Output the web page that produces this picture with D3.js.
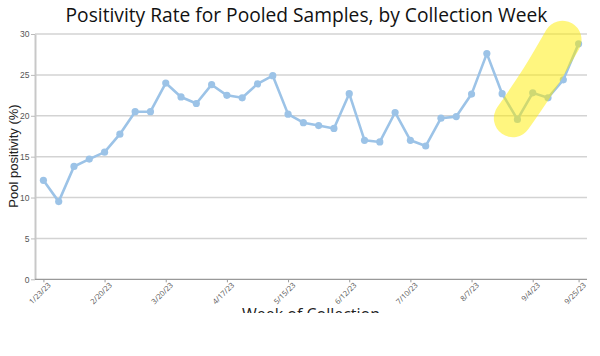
<!DOCTYPE html>
<html><head><meta charset="utf-8">
<script src="https://cdn.jsdelivr.net/npm/d3@7"></script>
<style>
html,body{margin:0;padding:0;background:#fff;}
svg{display:block;}
</style></head>
<body>
<div id="chart"></div>
<script>
const weeks = ["1/23/23","1/30/23","2/6/23","2/13/23","2/20/23","2/27/23","3/6/23","3/13/23","3/20/23","3/27/23","4/3/23","4/10/23","4/17/23","4/24/23","5/1/23","5/8/23","5/15/23","5/22/23","5/29/23","6/5/23","6/12/23","6/19/23","6/26/23","7/3/23","7/10/23","7/17/23","7/24/23","7/31/23","8/7/23","8/14/23","8/21/23","8/28/23","9/4/23","9/11/23","9/18/23","9/25/23"];
const positivity = [12.1,9.5,13.8,14.7,15.55,17.75,20.5,20.5,24.0,22.3,21.5,23.8,22.5,22.2,23.9,24.9,20.2,19.15,18.8,18.45,22.7,17.0,16.8,20.4,17.0,16.3,19.7,19.9,22.65,27.6,22.7,19.55,22.8,22.2,24.4,28.8];
const tickLabels = ["1/23/23","2/20/23","3/20/23","4/17/23","5/15/23","6/12/23","7/10/23","8/7/23","9/4/23","9/25/23"];
const yTicks = [0,5,10,15,20,25,30];
// highlight stroke, in (week index, value) units
const highlight = [[30.7,19.7],[32.4,24.4],[33.95,29.3]];

const W = 600, H = 313;
const m = {left:35, right:13, top:34, bottom:34};
const svg = d3.select("#chart").append("svg").attr("width",W).attr("height",H);

const x = d3.scalePoint().domain(weeks).range([m.left, W-m.right]).padding(0.55);
const xi = d3.scaleLinear().domain([0, weeks.length-1]).range([x(weeks[0]), x(weeks[weeks.length-1])]);
const y = d3.scaleLinear().domain([0,30]).range([279.3, 34]);

svg.append("text").attr("x",306.5).attr("y",21.5).attr("text-anchor","middle")
  .attr("font-family","Open Sans").attr("font-size",19.2).attr("fill","#111")
  .text("Positivity Rate for Pooled Samples, by Collection Week");

// gridlines
svg.append("g").selectAll("line").data(yTicks.filter(d=>d>0)).join("line")
  .attr("x1",m.left).attr("x2",W-m.right).attr("y1",d=>y(d)).attr("y2",d=>y(d))
  .attr("stroke","#d3d3d3").attr("stroke-width",1.5);

// y axis
const ya = svg.append("g").attr("transform",`translate(${m.left},0)`)
  .call(d3.axisLeft(y).tickValues(yTicks).tickSize(4).tickSizeOuter(0));
ya.select(".domain").attr("stroke","#c8c8c8").attr("stroke-width",2);
ya.selectAll(".tick line").attr("stroke","#bbb");
ya.selectAll("text").attr("font-family","Liberation Sans").attr("font-size",8.5).attr("fill","#555").attr("dx",1.5);

// x axis
const xa = svg.append("g").attr("transform",`translate(0,${y(0)})`)
  .call(d3.axisBottom(x).tickValues(tickLabels).tickSize(3).tickSizeOuter(0));
xa.select(".domain").attr("stroke","#999").attr("stroke-width",1.2).attr("d",`M${m.left},0H${W-m.right}`);
xa.selectAll(".tick line").attr("stroke","#999");
xa.selectAll("text").attr("font-family","Open Sans").attr("font-size",7.5).attr("fill","#555")
  .attr("text-anchor","end").attr("transform","rotate(-45)").attr("dx","0.1em").attr("dy","0.5em");

// axis titles
svg.append("text").attr("transform",`translate(18,156) rotate(-90)`).attr("text-anchor","middle")
  .attr("font-family","Liberation Sans").attr("font-size",13).attr("fill","#222").text("Pool positivity (%)");
svg.append("text").attr("x",311).attr("y",320).attr("text-anchor","middle")
  .attr("font-family","Open Sans").attr("font-size",16).attr("fill","#222").text("Week of Collection");

// line and points
const col = "#9cc3e7";
svg.append("path").datum(positivity)
  .attr("d", d3.line().x((d,i)=>x(weeks[i])).y(d=>y(d)))
  .attr("fill","none").attr("stroke",col).attr("stroke-width",2.6).attr("stroke-linejoin","round");
svg.append("g").selectAll("circle").data(positivity).join("circle")
  .attr("cx",(d,i)=>x(weeks[i])).attr("cy",d=>y(d)).attr("r",3.6).attr("fill",col);

// highlighter
svg.append("path").datum(highlight)
  .attr("d", d3.line().curve(d3.curveCatmullRom).x(d=>xi(d[0])).y(d=>y(d[1])))
  .attr("fill","none").attr("stroke","#ffee00").attr("stroke-opacity",0.5)
  .attr("stroke-width",38).attr("stroke-linecap","round");
</script>
</body></html>
